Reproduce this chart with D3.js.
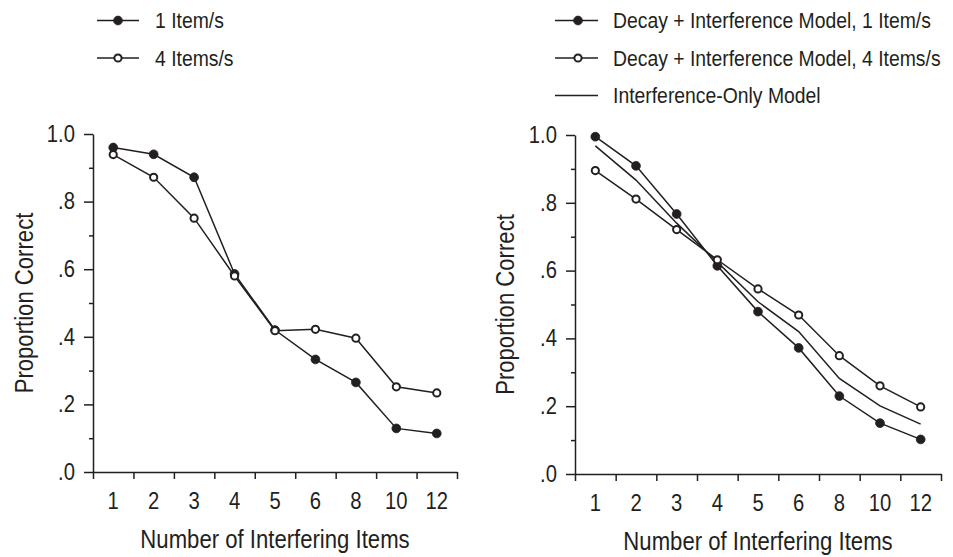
<!DOCTYPE html>
<html><head><meta charset="utf-8">
<script src="https://cdn.jsdelivr.net/npm/d3@7"></script>
<style>
html,body{margin:0;padding:0;background:#fff;}
svg text{font-family:"Liberation Sans",Arial,sans-serif;fill:#231f20;}
</style></head>
<body>
<svg id="chart" width="953" height="557"></svg>
<script>
const categories = ["1","2","3","4","5","6","8","10","12"];
const leftOneItem = [0.96,0.94,0.872,0.586,0.42,0.333,0.265,0.129,0.114];
const leftFourItems = [0.939,0.872,0.751,0.58,0.418,0.422,0.396,0.252,0.234];
const rightOneItem = [0.995,0.909,0.767,0.614,0.479,0.372,0.23,0.15,0.102];
const rightFourItems = [0.895,0.811,0.721,0.632,0.546,0.469,0.349,0.26,0.198];
const interferenceOnly = [0.968,0.867,0.74,0.625,0.508,0.42,0.282,0.201,0.147];
const yMajorTicks = [0,0.2,0.4,0.6,0.8,1.0];
const yMajorLabels = [".0",".2",".4",".6",".8","1.0"];
const yMinorTicks = [0.1,0.3,0.5,0.7,0.9];
const leftLegend = ["1 Item/s","4 Items/s"];
const rightLegend = ["Decay + Interference Model, 1 Item/s","Decay + Interference Model, 4 Items/s","Interference-Only Model"];
const xTitle = "Number of Interfering Items";
const yTitle = "Proportion Correct";

const INK = "#231f20";
const SX = 0.88;
const SXT = 0.835;
const svg = d3.select("#chart");

function condense(sel, k){
  const f = k || SX;
  sel.each(function(){
    const t = d3.select(this);
    const x = +t.attr("x")||0, y = +t.attr("y")||0;
    t.attr("x",0).attr("y",0).attr("transform",`translate(${x},${y}) scale(${f},1)`);
  });
}

function panel(cfg){
  const g = svg.append("g");
  const x = d3.scaleBand().domain(categories).range([cfg.x0,cfg.x1]).padding(0);
  const xb = d3.scaleLinear().domain([0,categories.length]).range([cfg.x0,cfg.x1]);
  const y = d3.scaleLinear().domain([0,1]).range([cfg.y0,cfg.y1]);

  g.append("g").attr("transform",`translate(${cfg.x0},0)`)
    .call(d3.axisLeft(y).tickValues(yMinorTicks).tickSize(4).tickFormat(""))
    .call(s=>s.select(".domain").remove());
  g.append("g").attr("transform",`translate(${cfg.x0},0)`)
    .call(d3.axisLeft(y).tickValues(yMajorTicks).tickSizeInner(9).tickSizeOuter(0).tickPadding(9)
      .tickFormat((d,i)=>yMajorLabels[i]))
    .call(s=>s.selectAll("text").style("font-size","23px").call(condense));
  g.append("g").attr("transform",`translate(0,${cfg.y0})`)
    .call(d3.axisBottom(xb).tickValues(d3.range(categories.length+1)).tickSizeInner(7).tickSizeOuter(0).tickFormat(""));
  g.append("g").attr("transform",`translate(0,${cfg.y0})`)
    .call(d3.axisBottom(x).tickSize(0).tickPadding(21))
    .call(s=>s.select(".domain").remove())
    .call(s=>s.selectAll("text").style("font-size","23px").call(condense));
  g.selectAll(".domain,.tick line").attr("stroke",INK).attr("stroke-width",1.5);

  g.append("text").attr("x",(cfg.x0+cfg.x1)/2).attr("y",cfg.y0+76)
    .attr("text-anchor","middle").style("font-size","26.5px").text(xTitle).call(condense, SXT);
  g.append("text").attr("transform",`translate(${cfg.ytx},${(cfg.y0+cfg.y1)/2}) rotate(-90) scale(${SXT},1)`)
    .attr("text-anchor","middle").attr("dy","0.35em").style("font-size","26.5px").text(yTitle);

  const line = d3.line().x((d,i)=>x(categories[i])+x.bandwidth()/2).y(d=>y(d));
  cfg.series.forEach(s=>{
    g.append("path").datum(s.values).attr("d",line).attr("fill","none")
      .attr("stroke",INK).attr("stroke-width",1.5);
  });
  cfg.series.forEach(s=>{
    if(s.marker==="none") return;
    g.selectAll(null).data(s.values).join("circle")
      .attr("cx",(d,i)=>x(categories[i])+x.bandwidth()/2).attr("cy",d=>y(d))
      .attr("r",s.marker==="filled"?4.4:3.6)
      .attr("fill",s.marker==="filled"?INK:"#fff")
      .attr("stroke",INK).attr("stroke-width",s.marker==="filled"?0.8:2);
  });

  cfg.legend.items.forEach((it,i)=>{
    const ly = cfg.legend.y0 + i*cfg.legend.dy;
    const lg = svg.append("g");
    lg.append("line").attr("x1",cfg.legend.lx0).attr("x2",cfg.legend.lx1).attr("y1",ly).attr("y2",ly)
      .attr("stroke",INK).attr("stroke-width",1.5);
    if(it.marker!=="none"){
      lg.append("circle").attr("cx",cfg.legend.mx).attr("cy",ly)
        .attr("r",it.marker==="filled"?4.4:3.6).attr("fill",it.marker==="filled"?INK:"#fff")
        .attr("stroke",INK).attr("stroke-width",it.marker==="filled"?0.8:2);
    }
    lg.append("text").attr("x",cfg.legend.tx).attr("y",ly).attr("dy","0.35em")
      .style("font-size","22px").text(it.label).call(condense);
  });
}

panel({x0:93,x1:457,y0:472,y1:134,ytx:24,
  series:[{values:leftOneItem,marker:"filled"},{values:leftFourItems,marker:"open"}],
  legend:{y0:20.5,dy:37.5,lx0:97,lx1:139,mx:118,tx:155,
    items:[{label:leftLegend[0],marker:"filled"},{label:leftLegend[1],marker:"open"}]}});

panel({x0:575,x1:941,y0:474,y1:135,ytx:505,
  series:[{values:interferenceOnly,marker:"none"},{values:rightOneItem,marker:"filled"},{values:rightFourItems,marker:"open"}],
  legend:{y0:20.5,dy:37.5,lx0:555,lx1:598,mx:578,tx:613,
    items:[{label:rightLegend[0],marker:"filled"},{label:rightLegend[1],marker:"open"},{label:rightLegend[2],marker:"none"}]}});
</script>
</body></html>
